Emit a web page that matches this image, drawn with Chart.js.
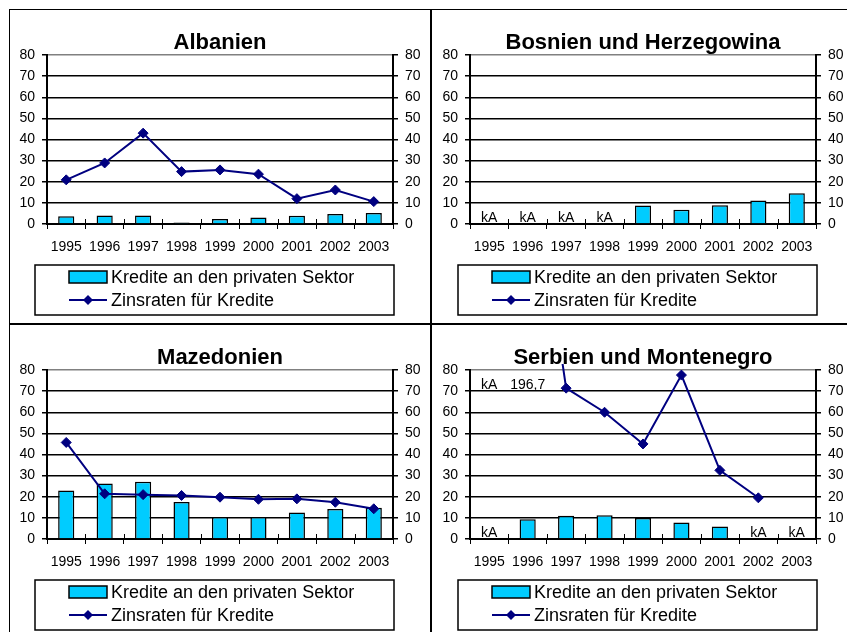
<!DOCTYPE html>
<html>
<head>
<meta charset="utf-8">
<script src="https://cdn.jsdelivr.net/npm/chart.js@4"></script>
<style>
  body { margin: 0; background: #fff; }
  #page { position: relative; width: 847px; height: 632px; overflow: hidden; }
  canvas { position: absolute; }
  .rule { position: absolute; background: #000; }
</style>
</head>
<body>
<div id="page">
  <canvas id="c-alb" width="423" height="315" style="left:9px;top:9px"></canvas>
  <canvas id="c-bih" width="415" height="315" style="left:432px;top:9px"></canvas>
  <canvas id="c-mkd" width="423" height="308" style="left:9px;top:324px"></canvas>
  <canvas id="c-scg" width="415" height="308" style="left:432px;top:324px"></canvas>
  <div class="rule" style="left:9px;top:9px;width:838px;height:1px"></div>
  <div class="rule" style="left:9px;top:9px;width:1px;height:623px"></div>
  <div class="rule" style="left:430px;top:9px;width:2px;height:623px"></div>
  <div class="rule" style="left:9px;top:323px;width:838px;height:2px"></div>
</div>
<script>
// ───── Kredite / Zinsraten, four countries ──────────────────────────────────
const YEARS = ['1995', '1996', '1997', '1998', '1999', '2000', '2001', '2002', '2003'];
const SERIES_BAR = 'Kredite an den privaten Sektor';
const SERIES_LINE = 'Zinsraten für Kredite';

// Albanien
const albKredite = [3.7, 4.0, 4.0, 0.7, 2.4, 3.1, 3.9, 4.7, 5.2];
const albZins = [20.9, 28.9, 43.0, 24.8, 25.6, 23.6, 12.0, 16.1, 10.6];

// Bosnien und Herzegowina (kA = keine Angabe)
const bihKredite = [null, null, null, null, 8.8, 6.8, 8.9, 11.1, 14.5];
const bihZins = [null, null, null, null, null, null, null, null, null];
const bihKreditNotes = ['kA', 'kA', 'kA', 'kA', null, null, null, null, null];

// Mazedonien
const mkdKredite = [22.9, 26.3, 27.1, 17.5, 10.4, 10.4, 12.6, 14.2, 14.8];
const mkdZins = [45.7, 21.4, 21.0, 20.6, 19.8, 18.8, 19.0, 17.4, 14.3];

// Serbien und Montenegro
const scgKredite = [null, 9.4, 11.0, 11.3, 10.0, 7.8, 5.9, null, null];
const scgZins = [null, 196.7, 71.4, 60.0, 45.0, 77.6, 32.5, 19.5, null];
const scgKreditNotes = ['kA', null, null, null, null, null, null, 'kA', 'kA'];
const scgZinsNotes = ['kA', '196,7', null, null, null, null, null, null, null];

const BAR_FILL = '#00ccff';
const LINE_COLOR = '#000080';
const FONT = "'Liberation Sans', Arial, sans-serif";

Chart.defaults.font.family = FONT;
Chart.defaults.color = '#000';

// Extra drawing: upper half of the category ticks, "kA" notes, boxed legend.
const panelExtras = {
  id: 'panelExtras',
  afterDatasetsDraw(chart, args, opts) {
    const { ctx, chartArea: a } = chart;
    const xs = chart.scales.x;
    ctx.save();
    ctx.fillStyle = '#000';
    ctx.font = `14px ${FONT}`;
    ctx.textAlign = 'center';
    ctx.textBaseline = 'alphabetic';
    (opts.barNotes || []).forEach((t, i) => {
      if (t) ctx.fillText(t, xs.getPixelForValue(i), a.bottom - 2);
    });
    ctx.textBaseline = 'middle';
    (opts.lineNotes || []).forEach((t, i) => {
      if (t) ctx.fillText(t, xs.getPixelForValue(i), a.top + 15);
    });
    ctx.restore();
  },
  afterDraw(chart) {
    const { ctx, chartArea: a } = chart;
    const xs = chart.scales.x;
    ctx.save();

    // ticks cross the x axis
    const step = xs.width / YEARS.length;
    ctx.strokeStyle = '#000';
    ctx.lineWidth = 1;
    ctx.beginPath();
    for (let i = 0; i <= YEARS.length; i++) {
      const x = Math.round(xs.left + i * step) + 0.5;
      ctx.moveTo(x, a.bottom - 5);
      ctx.lineTo(x, a.bottom);
    }
    ctx.stroke();

    // legend box
    const bx = a.left - 12, by = a.bottom + 41, bw = a.right - a.left + 13, bh = 50;
    ctx.lineWidth = 1.5;
    ctx.strokeRect(bx, by, bw, bh);

    const barDs = chart.data.datasets.find((d) => d.type === 'bar');
    const lineDs = chart.data.datasets.find((d) => d.type === 'line');
    const sx = a.left + 22, sw = 38;
    const y1 = by + 12, y2 = by + 35;

    ctx.fillStyle = barDs.backgroundColor;
    ctx.fillRect(sx, y1 - 6, sw, 12);
    ctx.strokeStyle = '#000';
    ctx.lineWidth = 1.5;
    ctx.strokeRect(sx, y1 - 6, sw, 12);

    ctx.strokeStyle = lineDs.borderColor;
    ctx.lineWidth = 2;
    ctx.beginPath();
    ctx.moveTo(sx, y2);
    ctx.lineTo(sx + sw, y2);
    ctx.stroke();
    const cx = sx + sw / 2, r = 5;
    ctx.fillStyle = lineDs.borderColor;
    ctx.beginPath();
    ctx.moveTo(cx, y2 - r);
    ctx.lineTo(cx + r, y2);
    ctx.lineTo(cx, y2 + r);
    ctx.lineTo(cx - r, y2);
    ctx.closePath();
    ctx.fill();

    ctx.fillStyle = '#000';
    ctx.font = `18px ${FONT}`;
    ctx.textAlign = 'left';
    ctx.textBaseline = 'middle';
    ctx.fillText(barDs.label, sx + sw + 4, y1 + 1);
    ctx.fillText(lineDs.label, sx + sw + 4, y2 + 1);
    ctx.restore();
  },
};

function yTicks(position, width, grid) {
  return {
    position,
    min: 0,
    max: 80,
    ticks: { stepSize: 10, font: { size: 14 }, color: '#000', padding: 7 },
    grid,
    border: { color: '#000', width: 2 },
    afterFit(s) { s.width = width; },
  };
}

function makeChart(id, title, kredite, zins, notes) {
  const canvas = document.getElementById(id);
  new Chart(canvas, {
    type: 'bar',
    data: {
      labels: YEARS,
      datasets: [
        {
          type: 'line',
          label: SERIES_LINE,
          data: zins,
          order: 0,
          borderColor: LINE_COLOR,
          backgroundColor: LINE_COLOR,
          borderWidth: 2,
          pointStyle: 'rectRot',
          pointRadius: 5,
          pointHoverRadius: 5,
          pointBorderWidth: 1,
          tension: 0,
          spanGaps: false,
          clip: { left: 0, top: 6, right: 0, bottom: 0 },
        },
        {
          type: 'bar',
          label: SERIES_BAR,
          data: kredite,
          order: 1,
          backgroundColor: BAR_FILL,
          borderColor: '#000',
          borderWidth: 1.5,
          barPercentage: 0.42,
          categoryPercentage: 1,
        },
      ],
    },
    options: {
      responsive: false,
      animation: false,
      devicePixelRatio: 1,
      layout: { padding: { left: 2, right: canvas.width - 384 - 29, top: 0, bottom: canvas.height - 215 - 40 } },
      plugins: {
        legend: { display: false },
        tooltip: { enabled: false },
        title: {
          display: true,
          text: title,
          fullSize: false,
          color: '#000',
          font: { size: 22, weight: 'bold', lineHeight: 1 },
          padding: { top: 23, bottom: 1 },
        },
        panelExtras: notes || {},
      },
      scales: {
        x: {
          offset: true,
          grid: { offset: true, drawOnChartArea: false, tickLength: 5, color: '#000', tickColor: '#000' },
          border: { color: '#000', width: 2 },
          ticks: { font: { size: 14 }, color: '#000', padding: 10, maxRotation: 0, autoSkip: false },
          afterFit(s) { s.height = 40; },
        },
        y: yTicks('left', 36, {
          color: (c) => (c.tick && c.tick.value === 80 ? '#808080' : '#000'),
          lineWidth: 1.5,
          tickColor: '#000',
          tickLength: 5,
        }),
        y2: yTicks('right', 29, { drawOnChartArea: false, tickColor: '#000', tickLength: 5, lineWidth: 1.5 }),
      },
    },
    plugins: [panelExtras],
  });
}

makeChart('c-alb', 'Albanien', albKredite, albZins);
makeChart('c-bih', 'Bosnien und Herzegowina', bihKredite, bihZins, { barNotes: bihKreditNotes });
makeChart('c-mkd', 'Mazedonien', mkdKredite, mkdZins);
makeChart('c-scg', 'Serbien und Montenegro', scgKredite, scgZins, { barNotes: scgKreditNotes, lineNotes: scgZinsNotes });
</script>
</body>
</html>
